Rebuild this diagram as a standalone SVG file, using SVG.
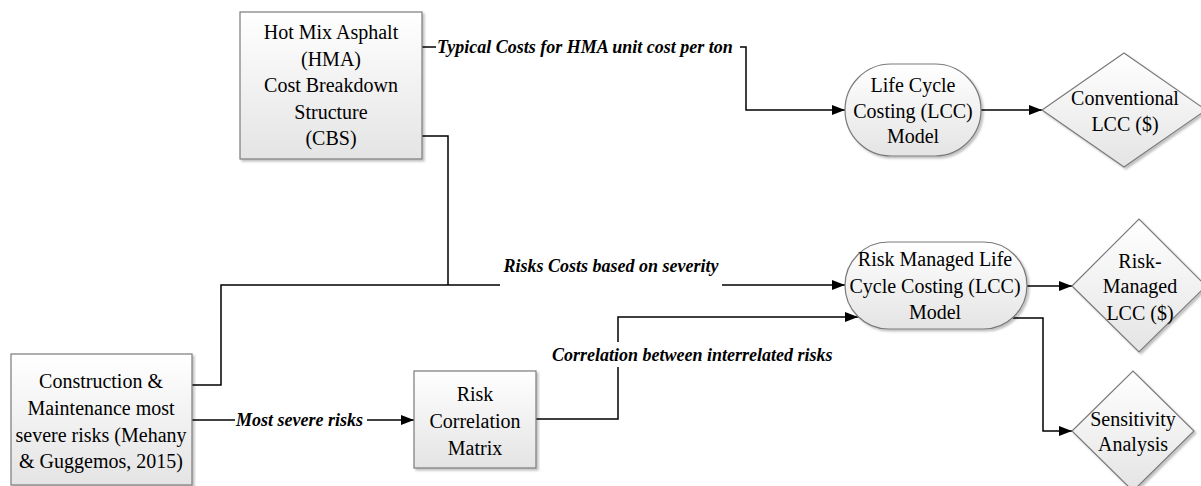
<svg xmlns="http://www.w3.org/2000/svg" width="1201" height="486" viewBox="0 0 1201 486">
<defs>
<linearGradient id="g" x1="0" y1="0" x2="0" y2="1">
<stop offset="0" stop-color="#ffffff"/>
<stop offset="1" stop-color="#e4e4e4"/>
</linearGradient>
<filter id="sh" x="-10%" y="-10%" width="130%" height="130%">
<feDropShadow dx="2" dy="2" stdDeviation="1.2" flood-color="#000" flood-opacity="0.25"/>
</filter>
<marker id="arr" markerUnits="userSpaceOnUse" markerWidth="14" markerHeight="12" refX="13" refY="5" orient="auto">
<path d="M0,0 L13,5 L0,10 z" fill="#000"/>
</marker>
</defs>
<style>
.n{fill:url(#g);stroke:#7a7a7a;stroke-width:1.2;filter:url(#sh)}
.t{font-family:'Liberation Serif',serif;font-size:20px;fill:#000;text-anchor:middle}
.l{font-family:'Liberation Serif',serif;font-size:18px;font-weight:bold;font-style:italic;fill:#000}
.c{fill:none;stroke:#000;stroke-width:1.5}
</style>
<rect width="1201" height="486" fill="#fff"/>

<g id="connectors">
<path class="c" d="M422,47 H436"/>
<path class="c" d="M740,47 H746 V110 H845" marker-end="url(#arr)"/>
<path class="c" d="M981,110 H1042" marker-end="url(#arr)"/>
<path class="c" d="M422,136 H448 V285"/>
<path class="c" d="M192,385 H221 V285 H500"/>
<path class="c" d="M722,285 H845" marker-end="url(#arr)"/>
<path class="c" d="M192,420 H235"/>
<path class="c" d="M367,420 H414" marker-end="url(#arr)"/>
<path class="c" d="M536,419 H618 V367"/>
<path class="c" d="M618,342 V317 H858" marker-end="url(#arr)"/>
<path class="c" d="M1027,286 H1072" marker-end="url(#arr)"/>
<path class="c" d="M1013,318 H1043 V431 H1072" marker-end="url(#arr)"/>
<text class="l" x="437" y="53">Typical Costs for HMA unit cost per ton</text>
<text class="l" x="611" y="272" text-anchor="middle">Risks Costs based on severity</text>
<text class="l" x="236" y="426">Most severe risks</text>
<text class="l" x="552" y="361">Correlation between interrelated risks</text>
</g>

<g id="hma">
<rect class="n" x="240" y="12" width="182" height="147"/>
<text class="t" x="331" y="39">Hot Mix Asphalt</text>
<text class="t" x="331" y="66">(HMA)</text>
<text class="t" x="331" y="92">Cost Breakdown</text>
<text class="t" x="331" y="119">Structure</text>
<text class="t" x="331" y="145">(CBS)</text>
</g>

<g id="construction">
<rect class="n" x="11" y="354" width="181" height="131"/>
<text class="t" x="101" y="388">Construction &amp;</text>
<text class="t" x="101" y="415">Maintenance most</text>
<text class="t" x="101" y="442">severe risks (Mehany</text>
<text class="t" x="101" y="468">&amp; Guggemos, 2015)</text>
</g>

<g id="rcm">
<rect class="n" x="414" y="371" width="122" height="97"/>
<text class="t" x="475" y="401">Risk</text>
<text class="t" x="475" y="428">Correlation</text>
<text class="t" x="475" y="455">Matrix</text>
</g>

<g id="lcc">
<rect class="n" x="845" y="64" width="136" height="92" rx="46" ry="46"/>
<text class="t" x="913" y="92">Life Cycle</text>
<text class="t" x="913" y="118">Costing (LCC)</text>
<text class="t" x="913" y="143">Model</text>
</g>

<g id="conventional">
<polygon class="n" points="1042,110 1124,53 1206,110 1124,167"/>
<text class="t" x="1125" y="105">Conventional</text>
<text class="t" x="1125" y="131">LCC ($)</text>
</g>

<g id="rmlcc">
<rect class="n" x="845" y="242" width="182" height="87" rx="43.5" ry="43.5"/>
<text class="t" x="935" y="266">Risk Managed Life</text>
<text class="t" x="935" y="292.5">Cycle Costing (LCC)</text>
<text class="t" x="935" y="319">Model</text>
</g>

<g id="rmdiamond">
<polygon class="n" points="1072,286 1139,219 1206,286 1139,352"/>
<text class="t" x="1140" y="268">Risk-</text>
<text class="t" x="1140" y="293">Managed</text>
<text class="t" x="1140" y="320">LCC ($)</text>
</g>

<g id="sensitivity">
<polygon class="n" points="1072,431 1133,371 1194,431 1133,491"/>
<text class="t" x="1133" y="426">Sensitivity</text>
<text class="t" x="1133" y="451">Analysis</text>
</g>
</svg>
